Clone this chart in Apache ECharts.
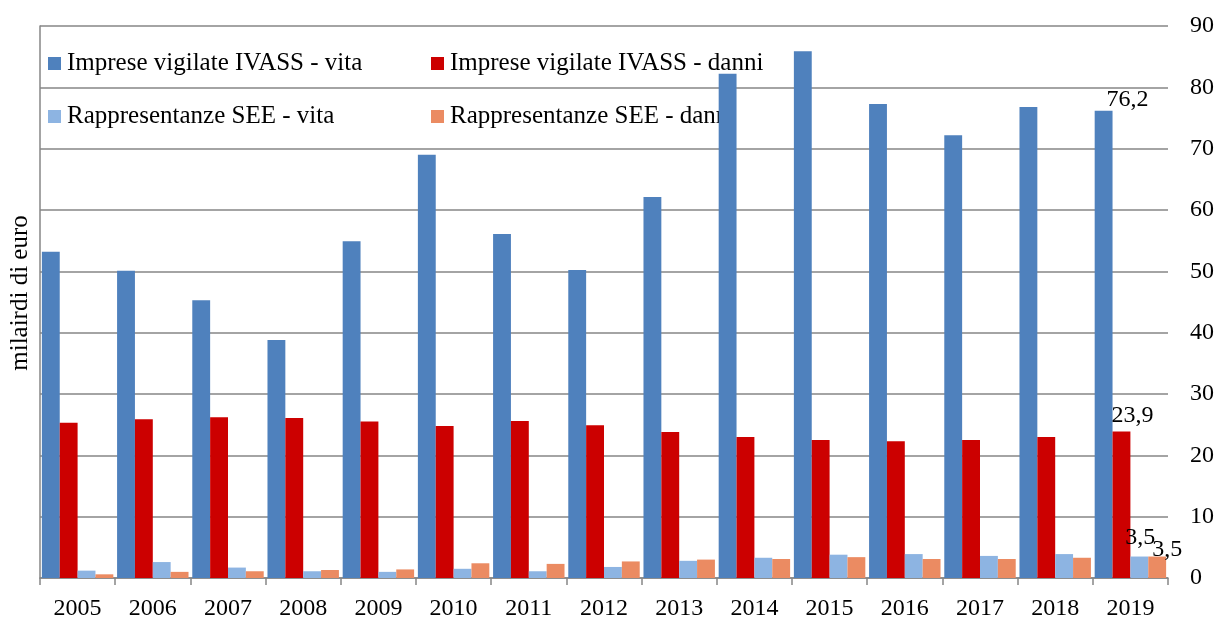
<!DOCTYPE html>
<html><head><meta charset="utf-8">
<script src="https://cdn.jsdelivr.net/npm/echarts@6/dist/echarts.min.js"></script>
<style>html,body{margin:0;padding:0;background:#fff}#c{width:1220px;height:622px}</style>
</head><body><div id="c"></div>
<script>
var years = ['2005','2006','2007','2008','2009','2010','2011','2012','2013','2014','2015','2016','2017','2018','2019'];
var seriesNames = ['Imprese vigilate IVASS - vita','Imprese vigilate IVASS - danni','Rappresentanze SEE - vita','Rappresentanze SEE - danni'];
var ivassVita  = [53.2,50.1,45.3,38.8,54.9,69.0,56.1,50.2,62.1,82.2,85.9,77.3,72.2,76.8,76.2];
var ivassDanni = [25.3,25.9,26.2,26.1,25.5,24.8,25.6,24.9,23.8,23.0,22.5,22.3,22.5,23.0,23.9];
var seeVita    = [1.2,2.6,1.7,1.1,1.0,1.5,1.1,1.8,2.8,3.3,3.8,3.9,3.6,3.9,3.5];
var seeDanni   = [0.6,1.0,1.1,1.3,1.4,2.4,2.3,2.7,3.0,3.1,3.4,3.1,3.1,3.3,3.5];
var yTicks = [0,10,20,30,40,50,60,70,80,90];
var yAxisName = 'milairdi di euro';

var colors = ['#4F81BD','#CC0000','#8DB4E2','#EB8B62'];
var font = '"Liberation Serif", "DejaVu Serif", serif';
var labelOffsets = [[24,2],[11,-3],[1,-6],[10,6]];
var allData = [ivassVita, ivassDanni, seeVita, seeDanni];

function mk(i){
  var arr = allData[i];
  return {
    name: seriesNames[i], type: 'bar', z: 3,
    barGap: '0%', barCategoryGap: '5%',
    itemStyle: {color: colors[i]},
    data: arr.map(function(v, k){
      if (k === arr.length - 1) {
        return {value: v, label: {show: true, position: 'top', distance: 1,
          offset: labelOffsets[i], color: '#000', fontFamily: font, fontSize: 24,
          formatter: function(p){ return p.value.toFixed(1).replace('.', ','); }}};
      }
      return v;
    })
  };
}

var legendPos = [[43,46],[426,46],[43,99],[426,99]];
var legends = seriesNames.map(function(n, i){
  return {data:[n], left: legendPos[i][0], top: legendPos[i][1], z: 1,
    itemWidth: 13, itemHeight: 13, icon: 'rect', itemGap: 6,
    textStyle: {fontFamily: font, fontSize: 25, color: '#000', padding: [0,0,0,1]}, selectedMode: false};
});

var chart = echarts.init(document.getElementById('c'), null, {renderer: 'canvas'});
chart.setOption({
  animation: false,
  backgroundColor: '#fff',
  legend: legends,
  grid: {left: 40, right: 52, top: 26, bottom: 44, containLabel: false},
  xAxis: {type: 'category', data: years,
    axisLine: {lineStyle: {color: '#868686', width: 1.5}},
    axisTick: {show: true, length: 7, lineStyle: {color: '#868686', width: 1.5}},
    axisLabel: {color: '#000', fontFamily: font, fontSize: 24, margin: 19}},
  yAxis: [
    {type: 'value', position: 'right', min: yTicks[0], max: yTicks[yTicks.length-1], interval: 10,
      axisLine: {show: false}, axisTick: {show: false},
      splitLine: {lineStyle: {color: '#868686', width: 1.5}},
      axisLabel: {color: '#000', fontFamily: font, fontSize: 24, margin: 22, align: 'left'}},
    {type: 'value', position: 'left', min: 0, max: 90, interval: 10,
      name: yAxisName, nameLocation: 'middle', nameGap: 7, nameRotate: 90,
      nameTextStyle: {color: '#000', fontFamily: font, fontSize: 25, padding: [0,0,0,18]},
      axisLine: {show: true, lineStyle: {color: '#868686', width: 1.5}},
      axisTick: {show: false}, axisLabel: {show: false}, splitLine: {show: false}}
  ],
  series: [mk(0), mk(1), mk(2), mk(3)]
});
</script></body></html>
